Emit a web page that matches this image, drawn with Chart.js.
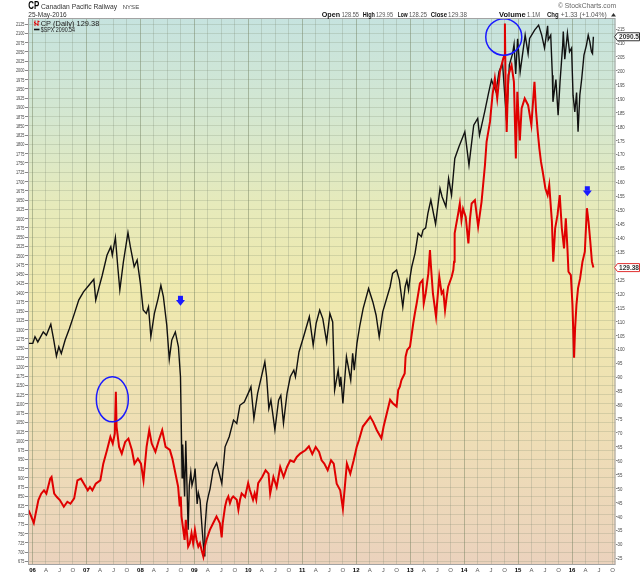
<!DOCTYPE html>
<html>
<head>
<meta charset="utf-8">
<title>CP vs $SPX</title>
<script src="https://cdn.jsdelivr.net/npm/chart.js@4.4.1/dist/chart.umd.min.js"></script>
<style>
  html, body { margin: 0; padding: 0; background: #fff; }
  #chart { display: block; }
</style>
</head>
<body>
<canvas id="chart" width="640" height="576"></canvas>
<script>
// CP daily close (right axis)
var cpDates = [
  '2005-12-05','2005-12-20','2006-01-10','2006-02-10','2006-03-01','2006-03-20','2006-04-05','2006-05-01','2006-05-10','2006-05-28',
  '2006-06-15','2006-07-05','2006-08-01','2006-08-25','2006-09-15','2006-10-10','2006-11-01','2006-11-25','2006-12-15','2007-01-10',
  '2007-01-25','2007-02-10','2007-03-05','2007-04-05','2007-04-25','2007-05-20','2007-06-12','2007-06-28','2007-07-12','2007-07-19',
  '2007-07-24','2007-08-10','2007-08-28','2007-09-20','2007-10-12','2007-11-05','2007-11-22','2007-12-15','2008-01-05','2008-01-22',
  '2008-02-12','2008-03-01','2008-03-18','2008-04-12','2008-05-05','2008-05-28','2008-06-20','2008-07-19','2008-08-05','2008-08-21',
  '2008-09-13','2008-09-24','2008-10-01','2008-10-06','2008-10-15','2008-10-27','2008-11-04','2008-11-12','2008-11-20','2008-12-01',
  '2008-12-13','2008-12-24','2009-01-05','2009-01-16','2009-01-28','2009-02-08','2009-02-19','2009-03-03','2009-03-13','2009-03-24',
  '2009-04-16','2009-05-08','2009-05-31','2009-06-12','2009-06-23','2009-07-05','2009-07-12','2009-07-28','2009-08-08','2009-08-19',
  '2009-08-30','2009-09-10','2009-09-21','2009-10-15','2009-10-26','2009-11-06','2009-11-17','2009-12-10','2009-12-31','2010-01-12',
  '2010-02-02','2010-02-13','2010-02-24','2010-03-09','2010-04-05','2010-04-28','2010-05-18','2010-05-29','2010-06-20','2010-07-12',
  '2010-08-05','2010-08-28','2010-09-20','2010-10-12','2010-11-05','2010-11-25','2010-12-18','2011-01-22','2011-02-15','2011-03-10',
  '2011-04-02','2011-04-25','2011-05-12','2011-05-30','2011-06-22','2011-07-15','2011-08-02','2011-08-22','2011-09-15','2011-10-03',
  '2011-10-18','2011-10-30','2011-11-22','2011-12-15','2012-01-05','2012-01-20','2012-02-15','2012-04-05','2012-04-25','2012-05-20',
  '2012-06-20','2012-07-05','2012-08-18','2012-09-05','2012-10-01','2012-10-12','2012-10-23','2012-11-03','2012-11-14','2012-11-25',
  '2012-12-01','2012-12-12','2012-12-31','2013-01-22','2013-02-02','2013-02-14','2013-03-08','2013-03-26','2013-04-03','2013-04-16',
  '2013-05-04','2013-05-15','2013-05-22','2013-06-04','2013-06-25','2013-07-03','2013-07-17','2013-08-02','2013-08-13','2013-08-25',
  '2013-09-05','2013-09-15','2013-10-09','2013-10-20','2013-10-25','2013-10-29','2013-11-06','2013-11-22','2013-12-03','2013-12-14',
  '2013-12-25','2014-01-12','2014-01-30','2014-02-10','2014-02-21','2014-03-15','2014-04-06','2014-04-29','2014-05-22','2014-06-02',
  '2014-06-25','2014-07-12','2014-07-28','2014-08-13','2014-08-31','2014-09-23','2014-10-02','2014-10-04','2014-10-09','2014-10-16',
  '2014-10-27','2014-11-18','2014-12-04','2014-12-17','2014-12-27','2015-01-13','2015-01-25','2015-02-15','2015-03-10','2015-04-01',
  '2015-04-22','2015-05-03','2015-05-14','2015-05-25','2015-06-05','2015-06-17','2015-07-05','2015-07-20','2015-07-31','2015-08-18',
  '2015-08-27','2015-09-09','2015-09-25','2015-10-10','2015-10-24','2015-11-08','2015-11-20','2015-12-01','2015-12-08','2015-12-24',
  '2016-01-04','2016-01-15','2016-01-22','2016-01-31','2016-02-11','2016-02-25','2016-03-12','2016-03-28','2016-04-11','2016-04-22',
  '2016-05-04','2016-05-15','2016-05-25'
];
var cpValues = [
  42.3, 40.5, 37.7, 45.9, 48.2, 49.4, 48.2, 53.6, 54.2, 48.2,
  47.0, 45.9, 43.5, 45.3, 44.6, 46.5, 53.0, 53.6, 51.8, 49.4,
  50.6, 49.4, 51.8, 53.0, 59.0, 63.8, 68.6, 66.2, 69.8, 84.8,
  72.2, 65.0, 62.6, 66.8, 68.0, 63.8, 59.0, 60.8, 59.0, 53.0,
  65.0, 71.0, 66.2, 63.2, 67.4, 71.0, 65.0, 63.9, 60.8, 56.7,
  50.7, 43.6, 47.2, 40.0, 36.4, 31.6, 38.8, 34.0, 29.2, 30.4,
  34.0, 30.4, 35.2, 31.6, 29.2, 30.4, 28.0, 25.6, 29.2, 31.6,
  35.2, 37.6, 40.0, 38.8, 37.6, 32.5, 37.6, 43.6, 46.0, 47.2,
  44.8, 46.5, 47.2, 46.0, 42.4, 46.0, 48.3, 47.0, 52.0, 49.5,
  46.0, 48.3, 46.0, 52.0, 54.2, 56.6, 55.4, 48.2, 54.2, 50.6,
  57.8, 54.2, 57.8, 60.2, 59.6, 61.4, 62.6, 63.8, 65.2, 62.4,
  65.0, 63.2, 60.2, 59.0, 56.6, 60.2, 59.0, 51.8, 49.4, 42.8,
  51.8, 59.0, 55.4, 60.2, 65.1, 67.5, 72.3, 75.8, 74.0, 71.0,
  68.1, 72.3, 81.9, 80.7, 79.5, 85.4, 86.6, 89.0, 90.2, 91.4,
  97.4, 99.8, 101.0, 109.4, 113.0, 116.5, 123.7, 124.9, 116.5, 120.1,
  127.3, 135.7, 129.7, 120.1, 111.8, 117.0, 126.1, 120.1, 121.0, 114.1,
  118.9, 122.5, 126.1, 128.5, 131.5, 141.7, 144.1, 148.8, 152.4, 146.4,
  150.5, 147.6, 138.1, 147.0, 152.4, 153.6, 144.1, 153.0, 166.2, 174.5,
  181.7, 191.3, 197.3, 190.1, 199.7, 204.5, 205.7, 217.0, 192.5, 178.1,
  198.5, 202.1, 196.1, 168.6, 192.5, 175.0, 186.5, 190.1, 187.7, 180.6,
  196.1, 185.3, 178.2, 172.2, 167.4, 163.8, 157.8, 155.4, 159.0, 145.9,
  131.5, 143.5, 148.3, 155.4, 143.5, 136.3, 147.1, 136.3, 127.9, 126.7,
  116.0, 97.0, 107.6, 116.0, 122.0, 125.5, 131.5, 135.1, 150.7, 145.9,
  138.7, 131.5, 129.38
];

// S&P 500 ($SPX, left axis)
var spxDates = [
  '2005-12-05','2006-01-03','2006-01-18','2006-02-06','2006-03-15','2006-04-05','2006-05-05','2006-05-25','2006-06-12','2006-06-28',
  '2006-07-15','2006-08-10','2006-09-08','2006-10-12','2006-11-10','2006-12-12','2007-01-18','2007-02-20','2007-03-05','2007-03-25',
  '2007-04-18','2007-05-20','2007-06-15','2007-06-25','2007-07-16','2007-08-01','2007-08-15','2007-09-08','2007-10-09','2007-10-25',
  '2007-11-20','2007-12-10','2008-01-01','2008-01-20','2008-02-10','2008-02-25','2008-03-12','2008-04-05','2008-04-30','2008-05-19',
  '2008-06-05','2008-06-28','2008-07-15','2008-08-01','2008-08-25','2008-09-15','2008-09-29','2008-10-06','2008-10-10','2008-10-14',
  '2008-10-27','2008-11-04','2008-11-20','2008-11-28','2008-12-08','2008-12-16','2008-12-31','2009-01-06','2009-01-20','2009-01-28',
  '2009-02-09','2009-02-23','2009-03-09','2009-03-13','2009-03-26','2009-04-05','2009-04-17','2009-05-08','2009-06-01','2009-07-06',
  '2009-07-28','2009-08-25','2009-09-23','2009-10-15','2009-11-05','2009-12-05','2010-01-10','2010-01-19','2010-02-08','2010-03-05',
  '2010-04-23','2010-05-05','2010-05-20','2010-06-03','2010-06-30','2010-07-25','2010-08-09','2010-08-27','2010-09-20','2010-10-12',
  '2010-11-05','2010-11-16','2010-12-10','2011-01-10','2011-02-18','2011-03-16','2011-04-05','2011-04-29','2011-05-20','2011-06-15',
  '2011-07-07','2011-07-26','2011-08-08','2011-09-01','2011-09-12','2011-09-19','2011-10-03','2011-10-27','2011-11-25','2011-12-08',
  '2011-12-19','2012-01-06','2012-01-26','2012-02-17','2012-03-25','2012-04-23','2012-05-15','2012-06-05','2012-06-29','2012-08-18',
  '2012-09-04','2012-10-01','2012-10-20','2012-11-12','2012-11-28','2012-12-10','2012-12-21','2013-01-01','2013-01-12','2013-02-03',
  '2013-02-24','2013-03-18','2013-03-29','2013-04-16','2013-05-01','2013-05-21','2013-06-22','2013-07-22','2013-08-05','2013-08-31',
  '2013-09-18','2013-10-08','2013-10-30','2013-11-27','2014-01-06','2014-02-03','2014-03-07','2014-04-03','2014-04-15','2014-05-20',
  '2014-06-15','2014-07-05','2014-08-05','2014-08-25','2014-09-18','2014-10-15','2014-11-03','2014-11-25','2014-12-05','2014-12-16',
  '2014-12-29','2015-01-15','2015-02-18','2015-03-10','2015-03-20','2015-04-24','2015-05-20','2015-06-10','2015-06-29','2015-07-20',
  '2015-07-24','2015-08-10','2015-08-21','2015-08-25','2015-09-14','2015-09-29','2015-10-12','2015-10-30','2015-11-03','2015-11-13',
  '2015-12-01','2015-12-15','2015-12-29','2016-01-08','2016-01-20','2016-02-01','2016-02-11','2016-02-23','2016-03-07','2016-03-22',
  '2016-04-08','2016-04-20','2016-05-01','2016-05-12','2016-05-19','2016-05-25'
];
var spxValues = [
  1263, 1263, 1281, 1267, 1294, 1285, 1315, 1272, 1229, 1254,
  1236, 1272, 1303, 1344, 1380, 1402, 1420, 1436, 1380, 1411,
  1447, 1501, 1524, 1501, 1549, 1470, 1407, 1483, 1562, 1524,
  1470, 1488, 1425, 1353, 1344, 1362, 1281, 1344, 1384, 1420,
  1389, 1312, 1220, 1272, 1294, 1254, 1173, 1002, 900, 990,
  850, 1000, 760, 880, 915, 880, 905, 925, 830, 860,
  840, 760, 690, 760, 830, 850, 870, 921, 940, 885,
  984, 1011, 1056, 1047, 1096, 1105, 1137, 1146, 1060, 1128,
  1213, 1173, 1087, 1110, 1030, 1110, 1123, 1047, 1128, 1173,
  1191, 1173, 1240, 1281, 1335, 1258, 1317, 1353, 1330, 1267,
  1344, 1321, 1137, 1191, 1146, 1173, 1101, 1227, 1164, 1236,
  1191, 1263, 1312, 1357, 1411, 1375, 1339, 1281, 1348, 1416,
  1452, 1461, 1434, 1362, 1416, 1434, 1407, 1443, 1470, 1506,
  1560, 1551, 1569, 1575, 1614, 1650, 1585, 1681, 1659, 1632,
  1708, 1663, 1762, 1794, 1834, 1744, 1852, 1870, 1825, 1888,
  1938, 1974, 1942, 1996, 2019, 1865, 2015, 2045, 2070, 1990,
  2085, 1995, 2095, 2045, 2086, 2109, 2122, 2095, 2060, 2120,
  2082, 2095, 1987, 1915, 1975, 1879, 1969, 2068, 2105, 2030,
  2100, 2050, 2060, 1933, 1888, 1940, 1834, 1933, 1978, 2041,
  2068, 2095, 2077, 2050, 2045, 2090.54
];

// x ticks: one per quarter from Jan 2006
var xTickLabels = [
  '06','A','J','O','07','A','J','O','08','A','J','O','09','A','J','O',
  '10','A','J','O','11','A','J','O','12','A','J','O','13','A','J','O',
  '14','A','J','O','15','A','J','O','16','A','J','O'
];
var spxTickMin = 675, spxTickMax = 2125, spxTickStep = 25;
var cpTickMin = 25, cpTickMax = 215, cpTickStep = 5;

var FONT = '"Liberation Sans", Arial, sans-serif';

function toYear(s) {
  var p = s.split('-');
  var y = +p[0];
  var t = Date.UTC(y, +p[1] - 1, +p[2]);
  var t0 = Date.UTC(y, 0, 1), t1 = Date.UTC(y + 1, 0, 1);
  return y + (t - t0) / (t1 - t0);
}

function toPoints(dates, values) {
  return dates.map(function(d, i) { return {x: toYear(d), y: values[i]}; });
}

function tickList(min, max, step) {
  var out = [];
  for (var v = min; v <= max + 1e-9; v += step) out.push({value: v});
  return out;
}

// draw text squeezed/stretched to a given width
function fitText(ctx, text, x, y, w, size, weight, color, align, baseline) {
  ctx.save();
  ctx.font = (weight || 'normal') + ' ' + size + 'px ' + FONT;
  ctx.fillStyle = color;
  ctx.textAlign = align || 'left';
  ctx.textBaseline = baseline || 'alphabetic';
  var m = ctx.measureText(text).width;
  ctx.translate(x, y);
  ctx.scale(w / m, 1);
  ctx.fillText(text, 0, 0);
  ctx.restore();
}

function downArrow(ctx, cx, cy) {
  ctx.save();
  ctx.fillStyle = '#1a1aff';
  ctx.fillRect(cx - 2.5, cy - 5, 5, 4.5);
  ctx.beginPath();
  ctx.moveTo(cx - 4.5, cy - 0.8);
  ctx.lineTo(cx + 4.5, cy - 0.8);
  ctx.lineTo(cx, cy + 5);
  ctx.closePath();
  ctx.fill();
  ctx.restore();
}

function valueTag(ctx, y, text, edge) {
  ctx.save();
  ctx.fillStyle = '#fff';
  ctx.strokeStyle = edge;
  ctx.lineWidth = 1;
  ctx.beginPath();
  ctx.moveTo(614.5, y);
  ctx.lineTo(617.5, y - 4);
  ctx.lineTo(639.5, y - 4);
  ctx.lineTo(639.5, y + 4);
  ctx.lineTo(617.5, y + 4);
  ctx.closePath();
  ctx.fill();
  ctx.stroke();
  ctx.restore();
  fitText(ctx, text, 619, y + 0.5, 20, 7, 'bold', '#333', 'left', 'middle');
}

var paperPlugin = {
  id: 'paper',
  beforeDraw: function(chart) {
    var a = chart.chartArea, ctx = chart.ctx;
    var g = ctx.createLinearGradient(0, a.top, 0, a.bottom);
    g.addColorStop(0, '#c6e3df');
    g.addColorStop(0.18, '#d4e7d0');
    g.addColorStop(0.34, '#e6eabb');
    g.addColorStop(0.5, '#efe9ae');
    g.addColorStop(0.72, '#efe0b4');
    g.addColorStop(1, '#ebd2bd');
    ctx.save();
    ctx.fillStyle = g;
    ctx.fillRect(a.left, a.top, a.right - a.left, a.bottom - a.top);
    ctx.restore();
  },
  afterDatasetsDraw: function(chart) {
    var ctx = chart.ctx, xs = chart.scales.x, yc = chart.scales.yCp, ys = chart.scales.ySpx;
    ctx.save();
    ctx.strokeStyle = '#1a1aff';
    ctx.lineWidth = 1.5;
    ctx.beginPath();
    ctx.ellipse(xs.getPixelForValue(2007.48), yc.getPixelForValue(82.1), 16, 22.5, 0, 0, Math.PI * 2);
    ctx.stroke();
    ctx.beginPath();
    ctx.ellipse(xs.getPixelForValue(2014.735), yc.getPixelForValue(212.2), 18, 18.3, 0, 0, Math.PI * 2);
    ctx.stroke();
    ctx.restore();
    downArrow(ctx, xs.getPixelForValue(2008.743), ys.getPixelForValue(1378));
    downArrow(ctx, xs.getPixelForValue(2016.284), yc.getPixelForValue(156.8));
  },
  afterDraw: function(chart) {
    var ctx = chart.ctx, a = chart.chartArea;
    var ys = chart.scales.ySpx, yc = chart.scales.yCp;

    // plot frame
    ctx.save();
    ctx.strokeStyle = '#a3a3a3';
    ctx.lineWidth = 1;
    ctx.strokeRect(a.left + 0.5, a.top + 0.5, a.right - a.left - 1, a.bottom - a.top - 1);
    ctx.restore();

    // axis labels
    ys.ticks.forEach(function(t) {
      var s = String(t.value);
      fitText(ctx, s, 24.5, ys.getPixelForValue(t.value) + 0.5, s.length * 2.15, 5.5, 'normal', '#444', 'right', 'middle');
    });
    yc.ticks.forEach(function(t) {
      var s = String(t.value);
      fitText(ctx, s, 617.5, yc.getPixelForValue(t.value) + 0.5, s.length * 2.4, 5.5, 'normal', '#444', 'left', 'middle');
    });

    // last-value tags
    valueTag(ctx, ys.getPixelForValue(spxValues[spxValues.length - 1]), '2090.5', '#333');
    valueTag(ctx, yc.getPixelForValue(cpValues[cpValues.length - 1]), '129.38', '#e03030');

    // title block
    fitText(ctx, 'CP', 28.3, 9.3, 11, 10, 'bold', '#000');
    fitText(ctx, 'Canadian Pacific Railway', 41, 9.3, 76, 7, 'normal', '#333');
    fitText(ctx, 'NYSE', 122.7, 9.0, 16.5, 5, 'normal', '#444');
    fitText(ctx, '25-May-2016', 28.3, 16.6, 38.4, 6.5, 'normal', '#333');
    fitText(ctx, '\u00a9 StockCharts.com', 558, 8.3, 58, 6.5, 'normal', '#666');

    var quote = [
      ['Open', 321.7, 18.3, true], ['128.55', 341.7, 17.3, false],
      ['High', 362.7, 12.3, true], ['129.95', 376, 17, false],
      ['Low', 397.7, 10, true], ['128.25', 409, 18, false],
      ['Close', 430.7, 16.3, true], ['129.38', 448, 19, false],
      ['Volume', 499, 26.7, true], ['1.1M', 527, 13, false],
      ['Chg', 547, 11.7, true], ['+1.33 (+1.04%)', 560.7, 46, false]
    ];
    quote.forEach(function(q) {
      fitText(ctx, q[0], q[1], 16.6, q[2], q[3] ? 7.5 : 6.5, q[3] ? 'bold' : 'normal', q[3] ? '#111' : '#555');
    });
    ctx.save();
    ctx.fillStyle = '#333';
    ctx.beginPath();
    ctx.moveTo(611, 16.5);
    ctx.lineTo(616, 16.5);
    ctx.lineTo(613.5, 13);
    ctx.closePath();
    ctx.fill();
    ctx.restore();

    // legend
    ctx.save();
    ctx.strokeStyle = '#e00000';
    ctx.lineWidth = 1;
    ctx.beginPath();
    ctx.moveTo(35, 20.5); ctx.lineTo(35, 26);
    ctx.moveTo(34, 22.5); ctx.lineTo(35, 22.5);
    ctx.moveTo(35, 23.5); ctx.lineTo(36.5, 23.5);
    ctx.moveTo(38, 20.5); ctx.lineTo(38, 26);
    ctx.moveTo(36.5, 24.5); ctx.lineTo(38, 24.5);
    ctx.moveTo(38, 21.5); ctx.lineTo(39.5, 21.5);
    ctx.stroke();
    ctx.strokeStyle = '#111';
    ctx.lineWidth = 1.6;
    ctx.beginPath();
    ctx.moveTo(34, 29.5); ctx.lineTo(39.5, 29.5);
    ctx.stroke();
    ctx.restore();
    fitText(ctx, 'CP (Daily) 129.38', 40.7, 25.5, 58.6, 7, 'normal', '#222');
    fitText(ctx, '$SPX 2090.54', 40.7, 31.8, 34.3, 6.5, 'normal', '#222');
  }
};

var ctx = document.getElementById('chart').getContext('2d');
new Chart(ctx, {
  type: 'line',
  data: {
    datasets: [{
      label: 'CP (Daily)',
      data: toPoints(cpDates, cpValues),
      yAxisID: 'yCp',
      borderColor: '#e00000',
      borderWidth: 2,
      pointRadius: 0,
      tension: 0,
      order: 0
    }, {
      label: '$SPX',
      data: toPoints(spxDates, spxValues),
      yAxisID: 'ySpx',
      borderColor: '#111111',
      borderWidth: 1.4,
      pointRadius: 0,
      tension: 0,
      order: 1
    }]
  },
  options: {
    responsive: false,
    animation: false,
    devicePixelRatio: 1,
    events: [],
    layout: { padding: { top: 18, left: 0, right: 0, bottom: 0 } },
    plugins: { legend: { display: false }, tooltip: { enabled: false } },
    scales: {
      x: {
        type: 'linear',
        min: 2005.917,
        max: 2016.806,
        afterBuildTicks: function(s) {
          s.ticks = xTickLabels.map(function(l, i) { return {value: 2006 + i * 0.25}; });
        },
        afterFit: function(s) { s.height = 11; },
        ticks: {
          autoSkip: false,
          maxRotation: 0,
          padding: 2,
          callback: function(v, i) { return xTickLabels[i]; },
          font: function(c) { return {family: FONT, size: 6, weight: c.index % 4 === 0 ? 'bold' : 'normal'}; },
          color: function(c) { return c.index % 4 === 0 ? '#000' : '#555'; }
        },
        grid: {
          drawTicks: false,
          color: function(c) { return c.index % 4 === 0 ? 'rgba(110,125,90,0.45)' : 'rgba(120,130,110,0.25)'; }
        },
        border: { display: false }
      },
      ySpx: {
        type: 'linear',
        position: 'left',
        min: 665,
        max: 2141.2,
        afterBuildTicks: function(s) { s.ticks = tickList(spxTickMin, spxTickMax, spxTickStep); },
        afterFit: function(s) { s.width = 28; },
        ticks: { display: false, autoSkip: false },
        grid: { color: 'rgba(120,130,105,0.22)', tickLength: 3, tickColor: '#888' },
        border: { display: false }
      },
      yCp: {
        type: 'linear',
        position: 'right',
        min: 22.6,
        max: 219,
        afterBuildTicks: function(s) { s.ticks = tickList(cpTickMin, cpTickMax, cpTickStep); },
        afterFit: function(s) { s.width = 24.5; },
        ticks: { display: false, autoSkip: false },
        grid: { drawOnChartArea: false, tickLength: 2, tickColor: '#888' },
        border: { display: false }
      }
    }
  },
  plugins: [paperPlugin]
});
</script>
</body>
</html>
